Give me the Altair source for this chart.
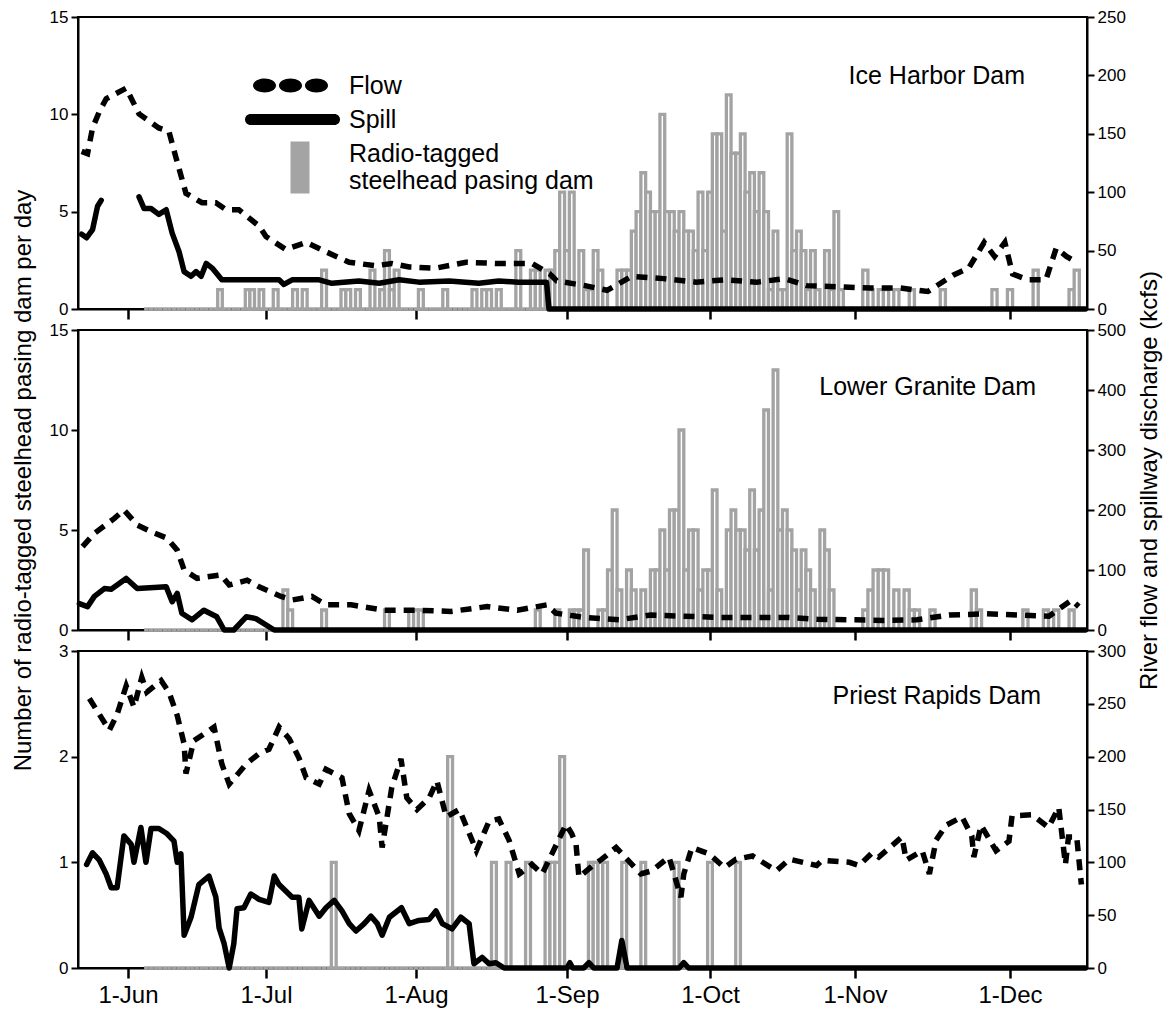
import altair as alt
import pandas as pd

FONT = "Liberation Sans, Arial, Helvetica, sans-serif"

# ---------------- x axis: days counted from 1 June ----------------
TICK_DAYS = [0, 30, 61, 92, 122, 153, 183]
TICK_LABELS = ["1-Jun", "1-Jul", "1-Aug", "1-Sep", "1-Oct", "1-Nov", "1-Dec"]
X_DOMAIN = [-11, 0, 30, 61, 92, 122, 153, 183, 198]
X_RANGE = [0, 50, 188, 338, 489, 632, 777, 932, 1009]
PLOT_W = 1009
COUNT_START, COUNT_END = 4, 197

# ---------------- Ice Harbor Dam ----------------
ih_pass_day = [20, 26, 27, 29, 32, 36, 38, 42, 46, 47,
               49, 52, 54, 55, 56, 57, 62, 67, 73, 75,
               76, 78, 82, 85, 86, 88, 89, 90, 91, 92,
               93, 95, 96, 97, 98, 99, 100, 103, 104, 105,
               106, 107, 108, 109, 110, 111, 112, 113, 114, 115,
               116, 117, 118, 119, 120, 121, 122, 123, 124, 125,
               126, 127, 128, 129, 130, 131, 132, 133, 134, 135,
               136, 137, 138, 139, 140, 141, 142, 143, 144, 145,
               147, 148, 149, 150, 155, 156, 158, 159, 161, 164,
               170, 180, 183, 188, 195, 196]
ih_pass_n = [1, 1, 1, 1, 1, 1, 1, 2, 1, 1,
             1, 2, 1, 3, 1, 2, 1, 1, 1, 1,
             1, 1, 3, 2, 2, 2, 2, 3, 6, 3,
             6, 3, 1, 1, 3, 2, 1, 2, 2, 2,
             4, 5, 7, 6, 5, 5, 10, 5, 5, 4,
             5, 4, 4, 3, 6, 3, 6, 9, 9, 4,
             11, 8, 8, 9, 6, 7, 5, 7, 5, 1,
             4, 1, 1, 9, 3, 4, 3, 1, 3, 1,
             3, 1, 5, 1, 2, 1, 1, 1, 1, 1,
             1, 1, 1, 2, 1, 2]
ih_flow_day = [-10.2, -8.9, -7.8, -6.3, -4.8, -0.4, 2.4, 6.7, 8.9, 10.4,
               12.6, 16.1, 19.1, 21.3, 24.1, 28.5, 30, 34.1, 38.3, 42.4,
               47.2, 52.7, 56, 59.6, 65.1, 71.3, 77.4, 84.8, 88.5, 89.9,
               95.8, 100.4, 105.6, 112.3, 119.1, 125.2, 132, 138, 142.7, 149.6,
               156.1, 161.7, 167.1, 172, 175, 178, 180, 182, 183.5, 186.5,
               190, 192, 194, 196]
ih_flow = [135, 133, 155, 169, 180, 189, 167, 155, 152, 130,
           99, 91, 91, 85, 85, 71, 62, 51, 57, 49,
           40, 37, 39, 36, 35, 40, 39, 39, 30, 24,
           20, 16, 28, 26, 23, 25, 23, 26, 20, 19,
           18, 18, 15, 29, 35, 57, 45, 57, 30, 25,
           25, 52, 45, 40]
ih_spill_a_day = [-10.2, -9.1, -7.8, -6.7, -5.9]
ih_spill_a = [64, 61, 68, 88, 93]
ih_spill_b_day = [2.4, 3.5, 5, 6.7, 8.3, 9.6, 11.1, 12.2, 13.7, 14.8,
                  15.9, 17, 18.3, 20.4, 32.7, 33.7, 35.4, 41, 43.6, 49.2,
                  53.4, 57.5, 61.6, 67.8, 73.9, 78, 82, 86.8, 87.8, 88.3,
                  197.7]
ih_spill_b = [96, 86, 86, 81, 85, 65, 49, 32, 28, 32,
              28, 39, 35, 25, 25, 21, 25, 25, 22, 24,
              22, 25, 23, 24, 22, 24, 23, 23, 23, 0,
              0]

# ---------------- Lower Granite Dam ----------------
lg_pass_day = [34, 35, 42, 55, 60, 61, 62, 86, 90, 93,
               94, 95, 96, 99, 100, 101, 102, 103, 105, 106,
               108, 110, 111, 112, 113, 114, 115, 116, 117, 118,
               119, 120, 121, 122, 123, 124, 126, 127, 128, 129,
               130, 131, 132, 133, 134, 135, 136, 137, 138, 139,
               140, 141, 142, 143, 144, 146, 147, 148, 155, 156,
               157, 158, 159, 161, 163, 164, 165, 168, 176, 177,
               186, 190, 192, 195]
lg_pass_n = [2, 1, 1, 1, 1, 1, 1, 1, 1, 1,
             1, 1, 4, 1, 1, 3, 6, 2, 3, 2,
             2, 3, 3, 5, 3, 6, 6, 10, 3, 5,
             5, 2, 3, 3, 7, 2, 5, 6, 5, 5,
             4, 7, 4, 6, 11, 2, 13, 5, 6, 5,
             4, 2, 4, 3, 2, 5, 4, 2, 1, 2,
             3, 3, 3, 2, 2, 1, 1, 1, 2, 1,
             1, 1, 1, 1]
lg_flow_day = [-10, -7.4, -3, -0.9, 2, 5, 8.5, 10.7, 12.2, 15,
               20.2, 22, 25.9, 28.5, 33.1, 35.4, 39.5, 42.4, 47.6, 54.4,
               61.2, 68.2, 75.6, 81.8, 87.9, 89.7, 95.6, 102.9, 109.6, 116.5,
               123.9, 130.7, 138.2, 144.9, 152.1, 158.6, 165, 171.2, 178.4, 184.4,
               190.6, 195, 196.4]
lg_flow = [139, 161, 186, 200, 175, 164, 153, 133, 100, 86,
           92, 75, 83, 72, 56, 50, 56, 42, 42, 33,
           33, 31, 39, 33, 42, 28, 21, 17, 25, 23,
           21, 21, 21, 18, 17, 16, 17, 25, 27, 25,
           23, 50, 39]
lg_spill_day = [-10.7, -8.9, -7.4, -5.2, -3.7, -0.4, 2, 5.7, 8.3, 9.6,
                10.7, 11.7, 13.9, 16.5, 19.3, 20.9, 23, 25.7, 27.8, 31.7,
                197.7]
lg_spill = [44, 39, 56, 69, 68, 86, 69, 71, 72, 47,
            61, 28, 17, 33, 22, 0, 0, 22, 19, 0,
            0]

# ---------------- Priest Rapids Dam ----------------
pr_pass_day = [44, 68, 77, 80, 84, 88, 89, 90, 91, 97, 98, 99, 100, 104, 108, 115, 122, 128]
pr_pass_n = [1, 2, 1, 1, 1, 1, 1, 1, 2, 1, 1, 1, 1, 1, 1, 1, 1, 1]
pr_flow_day = [-8.5, -4.1, -2.4, -0.4, 1.3, 3, 4.1, 7.2, 8.9, 10.7,
               12.2, 12.6, 14.3, 18.7, 20.4, 22, 25.7, 28.5, 30.6, 32.7,
               34.8, 36.8, 38.3, 41, 42.4, 45.7, 47.2, 49.2, 51.3, 53.4,
               54, 56, 57.9, 59.1, 61.2, 63.7, 65.3, 67.2, 69.9, 73.4,
               76, 78, 80.1, 82.2, 84.8, 86.9, 88.9, 91.8, 93, 93.9,
               94.5, 97.7, 99.3, 102.3, 107.5, 109.8, 113.4, 115.9, 116.5, 118.2,
               121.8, 125.1, 127.6, 131.1, 136.2, 139, 144.8, 146, 151.8, 153.8,
               156.3, 157.6, 162.1, 162.9, 166, 167.4, 168.7, 170.6, 173.7, 175.6,
               176, 177.4, 180.3, 182.8, 183.4, 187.3, 190.5, 192.5, 193.8, 194.4,
               196, 196.9]
pr_flow = [255, 225, 240, 267, 247, 275, 261, 272, 261, 239,
           212, 184, 215, 228, 193, 174, 193, 203, 207, 228,
           217, 199, 180, 174, 188, 180, 146, 130, 168, 143,
           114, 171, 198, 161, 150, 161, 177, 143, 150, 111,
           139, 141, 121, 89, 98, 89, 108, 136, 127, 117,
           86, 98, 103, 114, 89, 92, 105, 67, 89, 114,
           108, 95, 103, 106, 92, 103, 97, 102, 100, 97,
           109, 105, 124, 102, 111, 89, 121, 135, 143, 125,
           105, 135, 111, 120, 144, 145, 133, 152, 98, 124,
           124, 79]
pr_spill_day = [-9.1, -7.8, -6.3, -4.8, -3.7, -2.4, -0.9, 0.7, 1.3, 2.8,
                3.9, 5, 6.7, 8.5, 10, 10.7, 11.5, 12.2, 13.7, 15.4,
                17.6, 19.1, 19.8, 20.9, 22, 23, 23.7, 25.2, 26.7, 28.5,
                30.6, 31.7, 32.7, 35.4, 36.8, 37.4, 38.9, 41, 42.4, 44.1,
                45.7, 47.2, 48.6, 50.3, 51.7, 53, 54, 55.5, 58, 59.6,
                61.6, 63.7, 65.1, 66.4, 68.4, 70.2, 71.9, 72.9, 74.6, 76,
                77.4, 79.1, 92, 92.6, 93.2, 95.5, 96.6, 97.6, 102.5, 103.5,
                104.6, 115.5, 116.5, 117.5, 197.7]
pr_spill = [98, 109, 102, 89, 76, 76, 125, 117, 100, 133,
            100, 132, 132, 127, 120, 100, 108, 31, 48, 79,
            87, 67, 38, 23, 0, 23, 56, 57, 70, 65,
            62, 87, 79, 67, 67, 37, 64, 49, 57, 64,
            54, 42, 35, 42, 49, 42, 31, 48, 57, 42,
            45, 46, 54, 42, 37, 48, 42, 4, 10, 4,
            5, 0, 0, 5, 0, 0, 5, 0, 0, 26,
            0, 0, 5, 0, 0]

# ---------------- legend ----------------
LEGEND_ITEMS = ["Flow", "Spill", "Radio-tagged steelhead pasing dam"]
LEGEND_COLORS = ["black", "black", "#a4a4a4"]
LEGEND_SHAPES = [
    "M-3.75,0A1.15,0.7 0 1,0 -1.45,0A1.15,0.7 0 1,0 -3.75,0Z"
    "M-1.15,0A1.15,0.7 0 1,0 1.15,0A1.15,0.7 0 1,0 -1.15,0Z"
    "M1.45,0A1.15,0.7 0 1,0 3.75,0A1.15,0.7 0 1,0 1.45,0Z",
    "M-4.0,-0.55H4.4A0.55,0.55 0 0,1 4.4,0.55H-4.0A0.55,0.55 0 0,1 -4.0,-0.55Z",
    "M0.0,-1.2H1.9V4.0H0.0Z",
]

label_expr = " : ".join(
    f"datum.value == {d} ? '{l}'" for d, l in zip(TICK_DAYS, TICK_LABELS)
) + " : ''"
legend_label_expr = (
    "datum.label == 'Radio-tagged steelhead pasing dam' ? "
    "['Radio-tagged', 'steelhead pasing dam'] : datum.label"
)

xscale = alt.Scale(domain=X_DOMAIN, range=X_RANGE, nice=False, zero=False)


def x_axis(show):
    return alt.Axis(values=TICK_DAYS, labelExpr=label_expr, labels=show, title=None,
                    tickSize=10, tickWidth=2.5, domainWidth=2, labelFontSize=24,
                    labelPadding=5, grid=False, labelFlush=False)


def panel(name, pass_day, pass_n, lmax, lvals, flow_day, flow_vals, spill_parts,
          rmax, rvals, height, tdx, tdy, show_x, left_title, right_title, legend=False):
    counts = dict(zip(pass_day, pass_n))
    days = list(range(COUNT_START, COUNT_END + 1))
    bars_df = pd.DataFrame({
        "x0": [d - 0.5 for d in days],
        "x1": [d + 0.5 for d in days],
        "n": [counts.get(d, 0) for d in days],
    })
    flow_df = pd.DataFrame({"day": flow_day, "kcfs": flow_vals})
    spill_df = pd.concat([
        pd.DataFrame({"day": d, "kcfs": v, "seg": f"s{i}"})
        for i, (d, v) in enumerate(spill_parts)
    ])

    left_axis = alt.Axis(orient="left", values=lvals, title=left_title,
                         titleFontSize=24, titlePadding=14, labelFontSize=17,
                         labelPadding=3, tickSize=7, tickWidth=2, domainWidth=2,
                         grid=False, labelFlush=False)
    right_axis = alt.Axis(orient="right", values=rvals, title=right_title,
                          titleAngle=270, titleBaseline="top",
                          titleFontSize=24, titlePadding=12, labelFontSize=17,
                          labelPadding=3, tickSize=7, tickWidth=2, domainWidth=2,
                          grid=False, labelFlush=False)
    rscale = alt.Scale(domain=[0, rmax], nice=False)

    bars = alt.Chart(bars_df).mark_bar(fill="white", stroke="#a3a3a3", strokeWidth=3.3).encode(
        x=alt.X("x0:Q", scale=xscale, axis=x_axis(show_x)),
        x2="x1:Q",
        y=alt.Y("n:Q", scale=alt.Scale(domain=[0, lmax], nice=False), axis=left_axis),
        y2=alt.datum(0),
    )
    flow = alt.Chart(flow_df).mark_line(color="black", strokeWidth=5.5, strokeDash=[11, 8],
                                        strokeCap="butt").encode(
        x=alt.X("day:Q", scale=xscale, axis=x_axis(show_x)),
        y=alt.Y("kcfs:Q", scale=rscale, axis=right_axis),
    )
    spill = alt.Chart(spill_df).mark_line(color="black", strokeWidth=5.5, strokeJoin="round",
                                          strokeCap="round").encode(
        x=alt.X("day:Q", scale=xscale, axis=x_axis(show_x)),
        y=alt.Y("kcfs:Q", scale=rscale, axis=right_axis),
        detail="seg:N",
    )
    layers = [bars, alt.layer(flow, spill)]
    if legend:
        leg = alt.Legend(orient="none", legendX=200, legendY=56, title=None,
                         symbolSize=400, symbolStrokeWidth=0, symbolOpacity=1,
                         labelFontSize=25, labelOffset=46, labelLimit=0, padding=0,
                         rowPadding=8, labelExpr=legend_label_expr)
        leg_df = pd.DataFrame({"item": LEGEND_ITEMS})
        leg_layer = alt.Chart(leg_df).transform_filter("false").mark_point(filled=True).encode(
            color=alt.Color("item:N", scale=alt.Scale(domain=LEGEND_ITEMS, range=LEGEND_COLORS),
                            legend=leg),
            shape=alt.Shape("item:N", scale=alt.Scale(domain=LEGEND_ITEMS, range=LEGEND_SHAPES),
                            legend=leg),
        )
        layers.append(leg_layer)
    return alt.layer(*layers).resolve_scale(y="independent").properties(
        width=PLOT_W, height=height,
        title=alt.TitleParams(text=name, anchor="end", orient="top", frame="group",
                              offset=0, dx=tdx, dy=tdy, fontSize=25, fontWeight="normal",
                              baseline="alphabetic", color="black"),
    )


p1 = panel("Ice Harbor Dam", ih_pass_day, ih_pass_n, 15, [0, 5, 10, 15],
           ih_flow_day, ih_flow,
           [(ih_spill_a_day, ih_spill_a), (ih_spill_b_day, ih_spill_b)],
           250, [0, 50, 100, 150, 200, 250], 292, -62, 101, False, None, None, legend=True)
p2 = panel("Lower Granite Dam", lg_pass_day, lg_pass_n, 15, [0, 5, 10, 15],
           lg_flow_day, lg_flow, [(lg_spill_day, lg_spill)],
           500, [0, 100, 200, 300, 400, 500], 300, -51, 231, False,
           "Number of radio-tagged steelhead pasing dam per day",
           "River flow and spillway discharge (kcfs)")
p3 = panel("Priest Rapids Dam", pr_pass_day, pr_pass_n, 3, [0, 1, 2, 3],
           pr_flow_day, pr_flow, [(pr_spill_day, pr_spill)],
           300, [0, 50, 100, 150, 200, 250, 300], 317, -46, 87, True, None, None)

chart = alt.vconcat(p1, p2, p3, spacing=21, bounds="flush").properties(
    padding={"left": 2, "top": -1, "right": 0, "bottom": 0}
).configure(font=FONT).configure_view(
    stroke="black", strokeWidth=2
).configure_axis(
    labelColor="black", titleColor="black", domainColor="black", tickColor="black",
    titleFontWeight="normal", labelFont=FONT, titleFont=FONT
).configure_legend(labelColor="black", labelFont=FONT)

chart.save("out.html", embed_options={"renderer": "svg", "actions": False})
